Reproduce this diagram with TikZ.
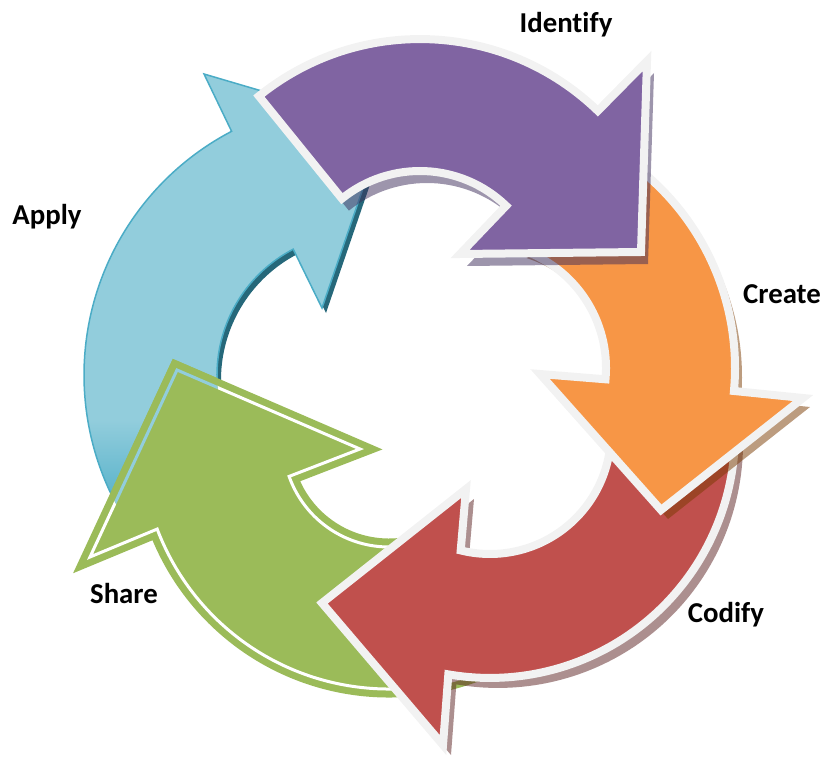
\documentclass[tikz,border=0pt]{standalone}
\usepackage{fontspec}
\setmainfont{Carlito}[Ligatures=NoCommon]
\definecolor{rimgray}{HTML}{F2F2F2}
\definecolor{cpurple}{HTML}{8064A2}
\definecolor{corange}{HTML}{F79646}
\definecolor{cred}{HTML}{C0504D}
\definecolor{cgreen}{HTML}{9BBB59}
\definecolor{cblue}{HTML}{92CDDC}
\definecolor{cblueedge}{HTML}{4BACC6}
\definecolor{cbluedark}{HTML}{26687A}
\definecolor{spurple}{HTML}{3C2C5A}
\definecolor{sorange}{HTML}{7A3A00}
\definecolor{sred}{HTML}{5A2020}

\newcommand{\bluearrow}{(122.3,515) arc[start angle=149.4, end angle=242.4, radius=275] -- (204,74) -- (384,127) -- (322,308) -- (293.2,249.2) arc[start angle=242.4, end angle=149.4, radius=142] -- cycle}
\newcommand{\greenarrow}{(513,655.8) arc[start angle=60, end angle=159.2, radius=248] -- (90,557) -- (177,370) -- (360,449) -- (289.1,476.4) arc[start angle=160.5, end angle=60, radius=106] -- cycle}
\newcommand{\redarrow}{(734.1,411.6) arc[start angle=-5, end angle=99.8, radius=245] -- (443,745) -- (322,603) -- (466,489) -- (460.7,550.4) arc[start angle=104, end angle=-5, radius=121] -- cycle}
\newcommand{\orangearrow}{(559.5,126.4) arc[start angle=288, end angle=365.2, radius=254] -- (803,398) -- (661,510) -- (540,374) -- (605.5,379.3) arc[start angle=365.2, end angle=288, radius=125] -- cycle}
\newcommand{\purplearrow}{(258.9,96.1) arc[start angle=231, end angle=314, radius=256] -- (647,61) -- (641,252) -- (460,254) -- (506.1,205.8) arc[start angle=314, end angle=231, radius=124] -- cycle}

\tikzset{
  rim/.style={draw=rimgray, line width=8pt, line join=miter},
  greenline/.style={draw=cgreen, line width=7pt, double distance=3pt, line join=miter},
  dropshadow/.style={fill=#1, fill opacity=.5},
  cyclelabel/.style={font=\bfseries\fontsize{28.8}{30}\selectfont, anchor=base, inner sep=0pt}
}

\begin{document}
\begin{tikzpicture}[x=1pt, y=-1pt]
\useasboundingbox (0,0) rectangle (828,757);

\fill[cbluedark, shift={(4,5)}] \bluearrow;
\fill[cblue] \bluearrow;
\begin{scope}
  \clip \bluearrow;
  \shade[top color=cblue, bottom color=cblueedge] (60,420) rectangle (260,520);
\end{scope}
\draw[cblueedge, line width=1.5pt] \bluearrow;

\draw[greenline, double=white, fill=cgreen] \greenarrow;
\begin{scope}
  \clip \bluearrow;
  \draw[greenline, double=cblue] \greenarrow;
\end{scope}

\fill[dropshadow=sred, shift={(8,10)}] \redarrow;
\draw[rim, fill=cred] \redarrow;

\fill[dropshadow=sorange, shift={(7,9)}] \orangearrow;
\draw[rim, fill=corange] \orangearrow;

\fill[dropshadow=spurple, shift={(7,12)}] \purplearrow;
\draw[rim, fill=cpurple] \purplearrow;

\node[cyclelabel] (identify) at (566,33) {Identify};
\node[cyclelabel] (create) at (782,303) {Create};
\node[cyclelabel] (codify) at (726,622) {Codify};
\node[cyclelabel] (share) at (124,603) {Share};
\node[cyclelabel] (apply) at (47,225) {Apply};
\end{tikzpicture}
\end{document}
